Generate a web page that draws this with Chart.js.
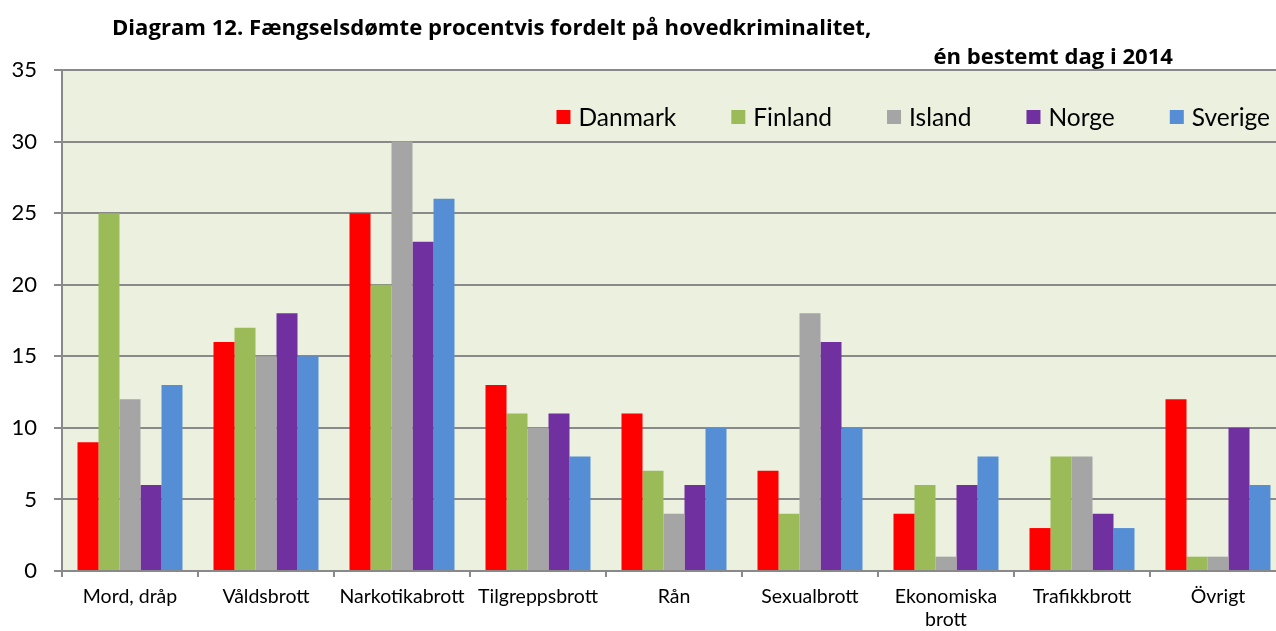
<!DOCTYPE html>
<html>
<head>
<meta charset="utf-8">
<script src="https://cdn.jsdelivr.net/npm/chart.js@4.4.1/dist/chart.umd.min.js"></script>
<style>
  html, body { margin: 0; padding: 0; background: #fff; overflow: hidden; }
</style>
</head>
<body>
<canvas id="fengselChart" width="1290" height="631"></canvas>
<script>
const categories = ['Mord, dråp', 'Våldsbrott', 'Narkotikabrott', 'Tilgreppsbrott', 'Rån', 'Sexualbrott', ['Ekonomiska', 'brott'], 'Trafikkbrott', 'Övrigt'];
const danmark = [9, 16, 25, 13, 11, 7, 4, 3, 12];
const finland = [25, 17, 20, 11, 7, 4, 6, 8, 1];
const island  = [12, 15, 30, 10, 4, 18, 1, 8, 1];
const norge   = [6, 18, 23, 11, 6, 16, 6, 4, 10];
const sverige = [13, 15, 26, 8, 10, 10, 8, 3, 6];
const yMin = 0, yMax = 35, yStep = 5;
const title1 = 'Diagram 12. Fængselsdømte procentvis fordelt på hovedkriminalitet,';
const title2 = 'én bestemt dag i 2014';

const FONT = 'Lato, "Open Sans", sans-serif';
const GRID = '#898989';

// plot area fill
const plotBg = {
  id: 'plotBg',
  beforeDraw(chart) {
    const a = chart.chartArea, ctx = chart.ctx;
    ctx.save();
    ctx.fillStyle = '#EBF1DE';
    ctx.fillRect(a.left, a.top, a.right - a.left, a.bottom - a.top);
    ctx.restore();
  }
};

// two line title, first line left, second line right
// font size is fitted so line one is about as wide as in the original
const titleText = {
  id: 'titleText',
  afterDraw(chart) {
    const ctx = chart.ctx;
    ctx.save();
    ctx.fillStyle = '#000';
    ctx.font = 'bold 20px "Open Sans"';
    const size = 20 * 760 / ctx.measureText(title1).width;
    ctx.font = 'bold ' + size.toFixed(1) + 'px "Open Sans"';
    ctx.textBaseline = 'alphabetic';
    ctx.textAlign = 'left';
    ctx.fillText(title1, 112, 35);
    ctx.textAlign = 'right';
    ctx.fillText(title2, 1173, 64);
    ctx.restore();
  }
};

// legend drawn inside the plot, right aligned
const legendInside = {
  id: 'legendInside',
  afterDatasetsDraw(chart) {
    const ctx = chart.ctx;
    ctx.save();
    ctx.font = '24.5px ' + FONT;
    ctx.textBaseline = 'middle';
    const box = 14, gapText = 8, gapItem = 55, y = 117;
    const items = chart.data.datasets.map(ds => ({ ds, w: ctx.measureText(ds.label).width }));
    let total = items.reduce((s, it) => s + box + gapText + it.w, 0) + gapItem * (items.length - 1);
    let x = 1270 - total;
    items.forEach(it => {
      ctx.fillStyle = it.ds.backgroundColor;
      ctx.fillRect(x, y - box / 2, box, box);
      ctx.fillStyle = '#000';
      ctx.fillText(it.ds.label, x + box + gapText, y + 1);
      x += box + gapText + it.w + gapItem;
    });
    ctx.restore();
  }
};

function bar(label, data, color) {
  return {
    label: label,
    data: data,
    backgroundColor: color,
    borderWidth: 0,
    categoryPercentage: 0.772,
    barPercentage: 1.0
  };
}

new Chart(document.getElementById('fengselChart').getContext('2d'), {
  type: 'bar',
  data: {
    labels: categories,
    datasets: [
      bar('Danmark', danmark, '#FF0000'),
      bar('Finland', finland, '#9BBB59'),
      bar('Island', island, '#A5A5A5'),
      bar('Norge', norge, '#7030A0'),
      bar('Sverige', sverige, '#558ED5')
    ]
  },
  options: {
    responsive: false,
    animation: false,
    layout: { padding: { top: 70, right: 4, left: 0, bottom: 0 } },
    plugins: {
      legend: { display: false },
      tooltip: { enabled: false }
    },
    scales: {
      x: {
        grid: { drawOnChartArea: false, drawTicks: true, tickLength: 6, color: GRID, lineWidth: 2 },
        border: { color: GRID, width: 2 },
        ticks: { color: '#000', font: { family: FONT, size: 19.5, lineHeight: 1.2 }, padding: 8, maxRotation: 0, autoSkip: false },
        afterFit(scale) { scale.height = 60; }
      },
      y: {
        min: yMin,
        max: yMax,
        ticks: { stepSize: yStep, color: '#000', font: { family: FONT, size: 22 }, padding: 17 },
        grid: { color: GRID, lineWidth: 2, tickLength: 8 },
        border: { color: GRID, width: 2 },
        afterFit(scale) { scale.width = 62; }
      }
    }
  },
  plugins: [plotBg, legendInside, titleText]
});
</script>
</body>
</html>
